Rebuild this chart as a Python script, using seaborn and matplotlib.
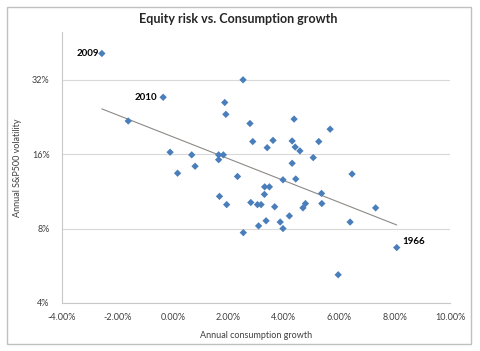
"""
Equity risk vs. consumption growth scatter, log2 volatility axis
"""
import numpy as np
import pandas as pd
import seaborn as sns
import matplotlib.pyplot as plt
from matplotlib.ticker import FuncFormatter, FixedLocator, NullLocator
from matplotlib.patches import Rectangle

# %% Data (percent)
growth = [-2.56, 2.53, -0.35, 1.87, 1.91, -1.61, 2.78, 4.37, 5.67, 2.88,
          3.61, 3.40, 4.30, 4.41, 4.58, 5.26, -0.10, 0.68, 1.65, 1.82,
          1.65, 5.06, 4.30, 0.80, 0.17, 2.33, 3.97, 4.43, 6.46, 3.31,
          3.48, 3.30, 1.68, 5.36, 1.94, 2.81, 3.05, 3.18, 3.67, 4.78,
          4.69, 5.37, 7.31, 4.20, 6.39, 3.36, 3.09, 3.87, 3.97, 2.54,
          8.07, 5.96]
volatility = [40.9, 32.0, 27.2, 25.9, 23.2, 21.8, 21.3, 22.2, 20.2, 18.0,
              18.2, 17.0, 18.1, 17.1, 16.5, 18.0, 16.3, 15.9, 15.9, 15.9,
              15.2, 15.5, 14.7, 14.3, 13.4, 13.0, 12.6, 12.7, 13.3, 11.8,
              11.8, 11.0, 10.8, 11.1, 10.0, 10.2, 10.0, 10.0, 9.8, 10.1,
              9.7, 10.1, 9.7, 9.0, 8.5, 8.6, 8.2, 8.5, 8.0, 7.7,
              6.7, 5.2]
label_idx = [0, 2, 50]
label_years = ['2009', '2010', '1966']
x_ticks = [-4, -2, 0, 2, 4, 6, 8, 10]
y_ticks = [4, 8, 16, 32]

df = pd.DataFrame({'growth': np.array(growth) / 100,
                   'vol': np.array(volatility) / 100})

# %% Plot
sns.set_theme(style='white')
plt.rcParams['font.family'] = ['Lato', 'DejaVu Sans']

fig = plt.figure(figsize=(4.8, 3.51), dpi=100)
ax = fig.add_axes([0.129, 0.137, 0.809, 0.772])
ax.set_yscale('log', base=2)

sns.scatterplot(data=df, x='growth', y='vol', marker='D', s=14,
                color='#4A7EBB', edgecolor='none', ax=ax, zorder=3)

# exponential trendline (straight on log axis)
b, a = np.polyfit(df['growth'], np.log(df['vol']), 1)
xs = np.array([df['growth'].min(), df['growth'].max()])
sns.lineplot(x=xs, y=np.exp(a + b * xs), color='#8E8A86', lw=0.8, ax=ax)

offsets = {'2009': (-3, 0, 'right'), '2010': (-6, 0, 'right'),
           '1966': (6, 6, 'left')}
for i, yr in zip(label_idx, label_years):
    dx, dy, ha = offsets[yr]
    ax.annotate(yr, (df['growth'][i], df['vol'][i]), xytext=(dx, dy),
                textcoords='offset pixels', ha=ha, va='center',
                fontsize=7, fontweight='bold', color='black')

ax.set_xlim(-0.04, 0.10)
ax.set_ylim(0.04, 0.50)
ax.xaxis.set_major_locator(FixedLocator([t / 100 for t in x_ticks]))
ax.xaxis.set_major_formatter(FuncFormatter(lambda v, p: f'{v * 100:.2f}%'))
ax.yaxis.set_major_locator(FixedLocator([t / 100 for t in y_ticks]))
ax.yaxis.set_major_formatter(FuncFormatter(lambda v, p: f'{v * 100:.0f}%'))
ax.yaxis.set_minor_locator(NullLocator())
ax.tick_params(axis='both', length=0, labelsize=6.5, colors='#404040')
ax.tick_params(axis='y', pad=9)
ax.tick_params(axis='x', pad=7)

ax.yaxis.grid(True, color='#D9D9D9', lw=0.8)
ax.set_axisbelow(True)
for s in ['top', 'right']:
    ax.spines[s].set_visible(False)
for s in ['left', 'bottom']:
    ax.spines[s].set_color('#C8C8C8')
    ax.spines[s].set_linewidth(0.8)

ax.set_xlabel('Annual consumption growth', fontsize=6.5, color='#404040')
ax.set_ylabel('Annual S&P500 volatility', fontsize=6.5, color='#404040')
ax.xaxis.set_label_coords(0.5, -0.103)
ax.yaxis.set_label_coords(-0.103, 0.5)

fig.text(0.496, 1 - 19 / 351, 'Equity risk vs. Consumption growth',
         ha='center', va='center', fontsize=9, fontweight='bold')

fig.add_artist(Rectangle((7 / 480, 7 / 351), 464 / 480, 337 / 351,
                         transform=fig.transFigure, fill=False,
                         edgecolor='#C0C0C0', lw=1))

fig.savefig('out.png', dpi=100)
